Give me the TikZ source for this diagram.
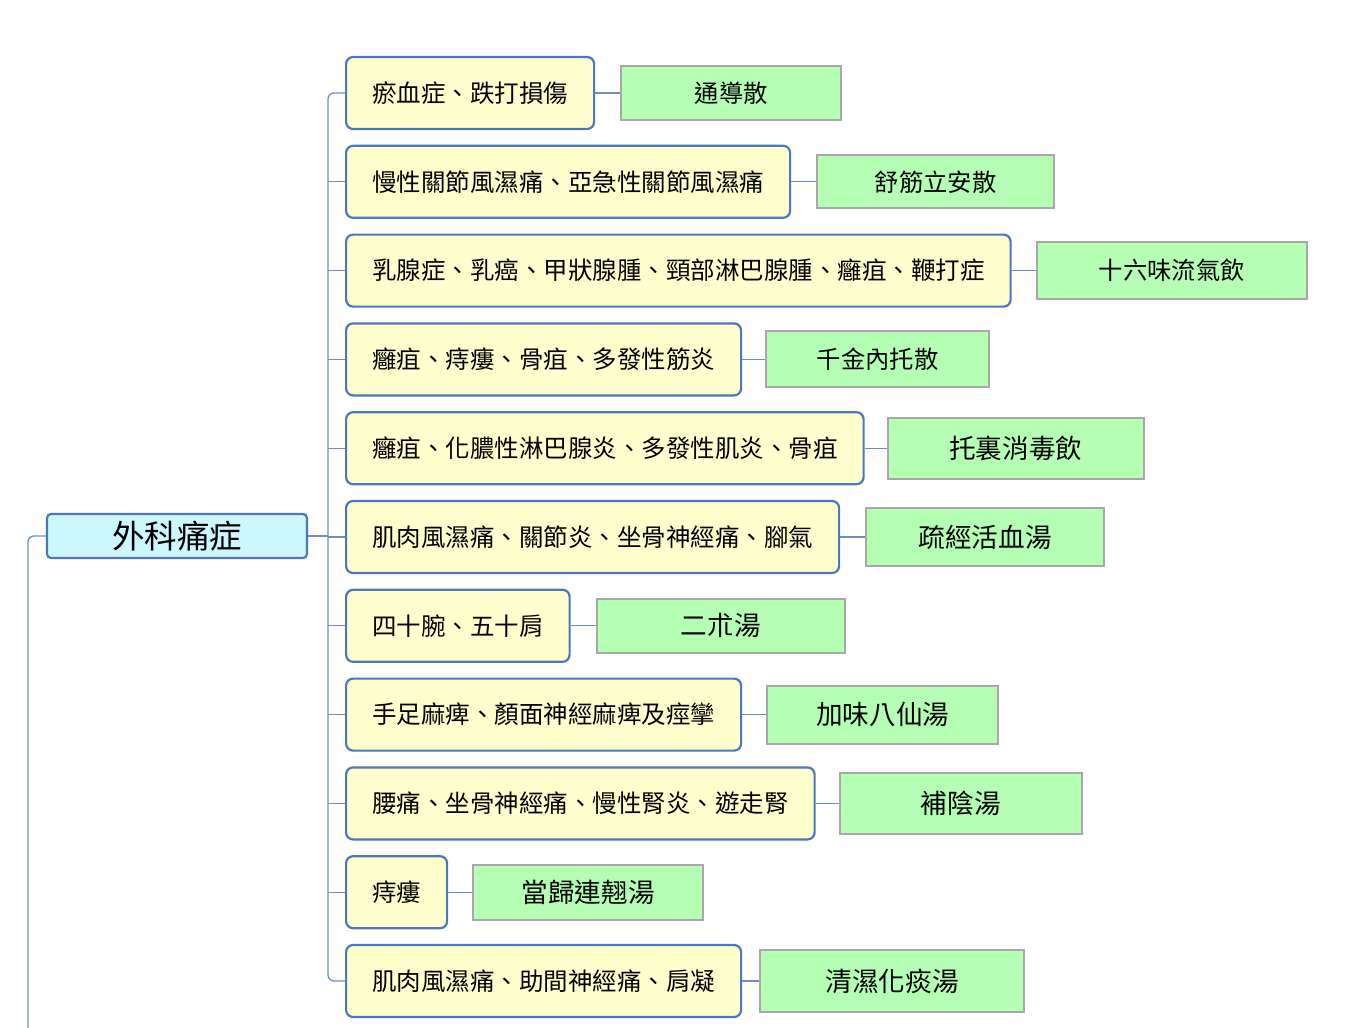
\documentclass[tikz,border=0pt]{standalone}
\usepackage{fontspec}
\setmainfont{Noto Sans CJK TC}
\usetikzlibrary{positioning}

\definecolor{boxblue}{RGB}{79,118,189}
\definecolor{linkblue}{RGB}{112,140,196}
\definecolor{rootcyan}{RGB}{204,247,255}
\definecolor{symyellow}{RGB}{255,255,206}
\definecolor{remgreen}{RGB}{181,255,181}
\definecolor{remgray}{RGB}{168,168,168}

\begin{document}
\begin{tikzpicture}[
        x=1pt, y=-1pt,
        link/.style={draw=linkblue, line width=1.3pt},
        root/.style={draw=boxblue, line width=2.2pt, fill=rootcyan, rounded corners=4pt,
            minimum width=260pt, minimum height=44pt, font=\fontsize{32.5}{36}\selectfont},
        symptom/.style={draw=boxblue, line width=2.2pt, fill=symyellow, rounded corners=7pt,
            inner xsep=26pt, minimum height=72pt, anchor=west, font=\fontsize{24.5}{28}\selectfont},
        remedy/.style={draw=remgray, line width=2pt, fill=remgreen, inner sep=0pt},
    ]

    \useasboundingbox (0,0) rectangle (1350,1028);

    \node[root] (root) at (177,536) {外科痛症};

    \foreach \i/\sym/\rem/\rw/\rh/\rs/\gap in {
        1/瘀血症、跌打損傷/通導散/220pt/54pt/24.3/25pt,
        2/慢性關節風濕痛、亞急性關節風濕痛/舒筋立安散/237pt/53pt/24.3/25pt,
        3/乳腺症、乳癌、甲狀腺腫、頸部淋巴腺腫、癰疽、鞭打症/十六味流氣飲/270pt/57pt/24.3/24pt,
        4/癰疽、痔瘻、骨疽、多發性筋炎/千金內托散/223pt/56pt/24.3/23pt,
        5/癰疽、化膿性淋巴腺炎、多發性肌炎、骨疽/托裏消毒飲/256pt/61pt/26.6/22pt,
        6/肌肉風濕痛、關節炎、坐骨神經痛、腳氣/疏經活血湯/238pt/58pt/26.6/25pt,
        7/四十腕、五十肩/二朮湯/248pt/54pt/26.6/25pt,
        8/手足麻痺、顏面神經麻痺及痙攣/加味八仙湯/231pt/58pt/26.6/24pt,
        9/腰痛、坐骨神經痛、慢性腎炎、遊走腎/補陰湯/242pt/61pt/26.6/23pt,
        10/痔瘻/當歸連翹湯/230pt/55pt/26.6/24pt,
        11/肌肉風濕痛、助間神經痛、肩凝/清濕化痰湯/264pt/62pt/26.6/17pt}
    {
        \node[symptom] (s\i) at ({345}, {93+88.8*(\i-1)}) {\sym};
        \node[remedy, right=\gap of s\i, minimum width=\rw, minimum height=\rh,
            font=\fontsize{\rs}{\rs}\selectfont] (r\i) {\rem};
        \draw[link] (s\i) -- (r\i);
    }

    % spine to the symptoms
    \coordinate (spine) at (328,536);
    \draw[link] (root) -- (spine);
    \draw[link, rounded corners=6pt] (s1.west) -| (spine) |- (s11.west);
    \foreach \i in {2,...,10}
        \draw[link] (s\i.west) -- (s\i.west -| spine);

    % branch from the parent, cut off below
    \coordinate (up) at (28,1028);
    \draw[link, rounded corners=6pt] (root.west) -| (up);
\end{tikzpicture}
\end{document}
